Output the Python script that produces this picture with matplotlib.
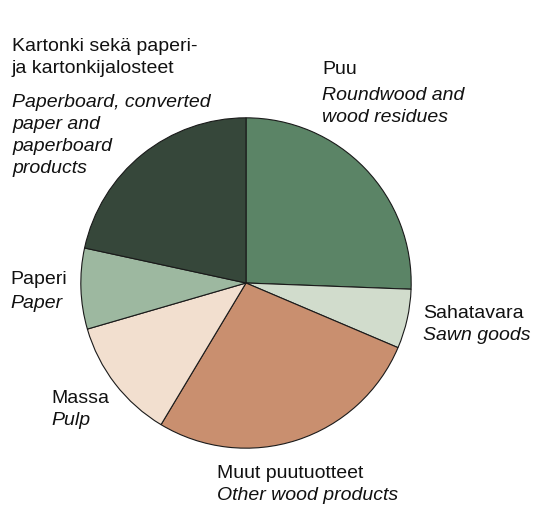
import matplotlib
matplotlib.use("Agg")
import matplotlib.pyplot as plt

# shares of each product group (percent), clockwise from 12 o'clock
labels_fi = ["Puu", "Sahatavara", "Muut puutuotteet", "Massa", "Paperi",
             "Kartonki sekä paperi-\nja kartonkijalosteet"]
labels_en = ["Roundwood and\nwood residues", "Sawn goods", "Other wood products",
             "Pulp", "Paper", "Paperboard, converted\npaper and\npaperboard\nproducts"]
shares = [25.6, 5.8, 27.2, 11.9, 7.9, 21.6]
colors = ["#5b8466", "#d1dccc", "#c98f6f", "#f2dfcf", "#9db8a0", "#36473a"]

W, H = 542, 506
fig = plt.figure(figsize=(W / 100, H / 100), dpi=100)
plt.rcParams['font.family'] = ['Liberation Sans Narrow', 'Liberation Sans', 'DejaVu Sans']

cx, cy, r = 246, 284, 166
ax = fig.add_axes([(cx - r) / W, (H - cy - r) / H, 2 * r / W, 2 * r / H])
ax.pie(shares, colors=colors, startangle=90, counterclock=False, radius=1,
       wedgeprops=dict(edgecolor="#1a1a1a", linewidth=0.8))
ax.set_xlim(-1.005, 1.005)
ax.set_ylim(-1.005, 1.005)
ax.set_aspect("equal")
ax.axis("off")

# label placement in pixels: left x, first finnish baseline, first english baseline
label_pos = [(322, 74, 100), (423, 318, 340), (217, 478, 500),
             (51, 403, 425), (10, 284, 308), (12, 51, 107)]
fs = 14
step = 22
for fi, en, (x, yf, ye) in zip(labels_fi, labels_en, label_pos):
    for i, line in enumerate(fi.split("\n")):
        fig.text(x / W, 1 - (yf + i * step) / H, line, fontsize=fs,
                 va="baseline", ha="left", color="#111111")
    for i, line in enumerate(en.split("\n")):
        fig.text(x / W, 1 - (ye + i * step) / H, line, fontsize=fs,
                 va="baseline", ha="left", style="italic", color="#111111")

fig.savefig("out.png", dpi=100)
